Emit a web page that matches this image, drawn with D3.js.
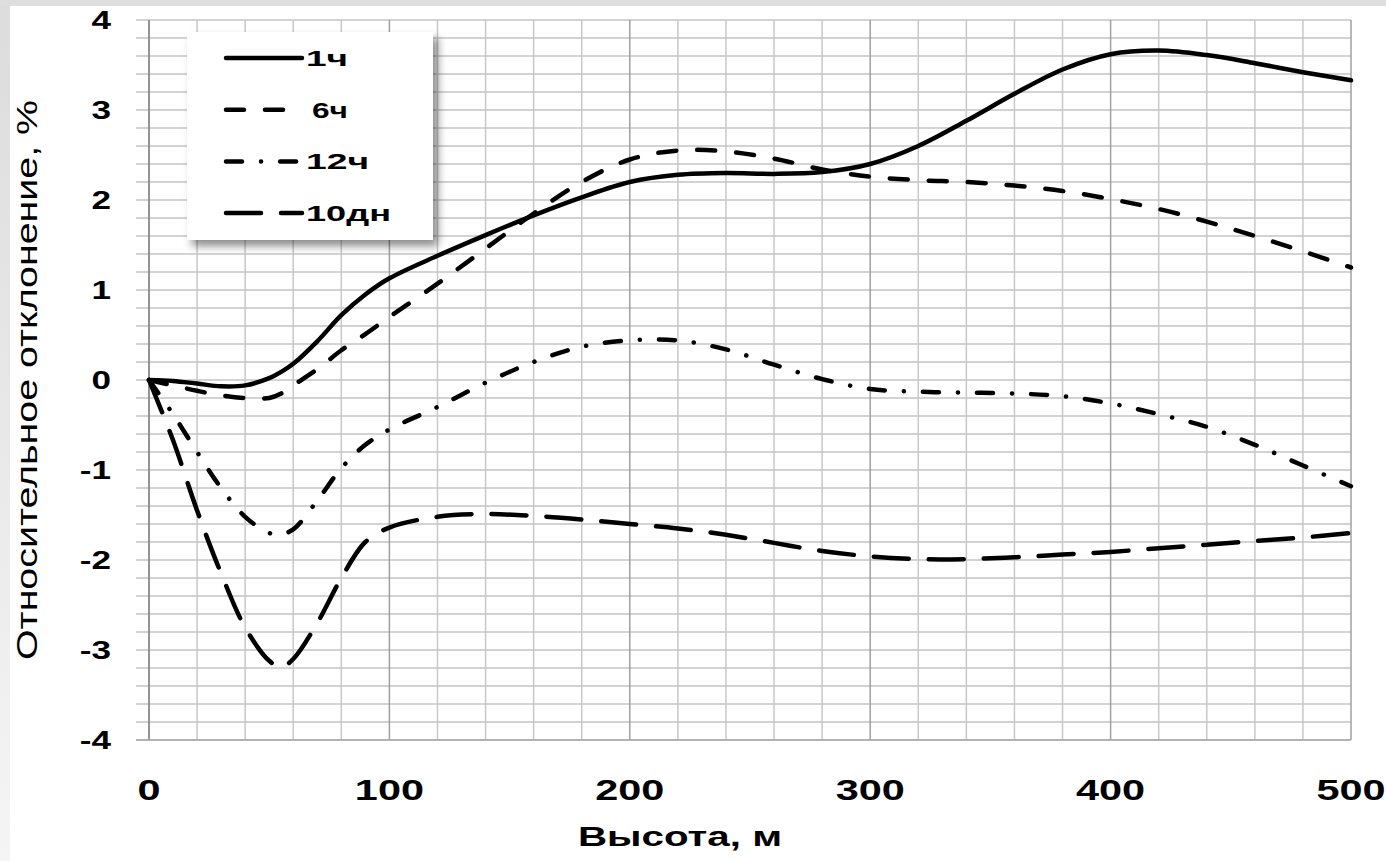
<!DOCTYPE html>
<html>
<head>
<meta charset="utf-8">
<title>Относительное отклонение</title>
<script src="https://cdn.jsdelivr.net/npm/d3@7"></script>
<style>
  body { margin: 0; background: #e4e4e4; }
  svg { display: block; }
  text { font-family: "Liberation Sans", Arial, sans-serif; fill: #000; }
</style>
</head>
<body>
<div id="chart"></div>
<script>
// heights, m
var heights = [0, 10, 20, 30, 40, 50, 55, 60, 70, 80, 90, 100, 120, 140, 160, 180, 200,
  220, 240, 260, 280, 300, 320, 340, 360, 380, 400, 420, 440, 460, 480, 500];

var dev1h = [0, -0.01, -0.04, -0.07, -0.06, 0.02, 0.09, 0.18, 0.43, 0.72, 0.95, 1.13, 1.38, 1.61, 1.83, 2.03, 2.2,
  2.28, 2.3, 2.29, 2.31, 2.4, 2.6, 2.88, 3.18, 3.45, 3.62, 3.66, 3.61, 3.52, 3.42, 3.33];
var dev6h = [0, -0.06, -0.12, -0.17, -0.2, -0.2, -0.15, -0.06, 0.12, 0.33, 0.51, 0.7, 1.07, 1.46, 1.85, 2.2, 2.45,
  2.55, 2.54, 2.46, 2.34, 2.26, 2.22, 2.2, 2.16, 2.1, 2.01, 1.9, 1.76, 1.6, 1.43, 1.25];
var dev12h = [0, -0.38, -0.8, -1.2, -1.52, -1.7, -1.71, -1.66, -1.34, -0.98, -0.72, -0.55, -0.3, -0.03, 0.2, 0.37, 0.44,
  0.44, 0.34, 0.17, 0.01, -0.1, -0.13, -0.14, -0.15, -0.18, -0.26, -0.38, -0.52, -0.72, -0.95, -1.18];
var dev10d = [0, -0.67, -1.45, -2.15, -2.75, -3.12, -3.19, -3.1, -2.7, -2.2, -1.8, -1.64, -1.52, -1.49, -1.51, -1.55, -1.6,
  -1.65, -1.72, -1.81, -1.9, -1.96, -1.99, -1.99, -1.97, -1.94, -1.91, -1.87, -1.83, -1.79, -1.75, -1.7];

var seriesNames = ["1ч", "6ч", "12ч", "10дн"];
var xTicks = [0, 100, 200, 300, 400, 500];
var yTicks = [-4, -3, -2, -1, 0, 1, 2, 3, 4];

var W = 1386, H = 861;
var svg = d3.select("#chart").append("svg").attr("width", W).attr("height", H);

// grey frame (top + left bands)
var defs = svg.append("defs");
var grad = defs.append("linearGradient").attr("id", "band").attr("x1", 0).attr("x2", 0).attr("y1", 0).attr("y2", 1);
grad.append("stop").attr("offset", "0%").attr("stop-color", "#dcdcdc");
grad.append("stop").attr("offset", "100%").attr("stop-color", "#f5f5f5");
svg.append("rect").attr("width", W).attr("height", H).attr("fill", "url(#band)");
svg.append("rect").attr("width", W).attr("height", 6).attr("fill", "#dedede");
svg.append("rect").attr("x", 10).attr("y", 6).attr("width", W - 10).attr("height", H - 6).attr("fill", "#fff");

var shadow = defs.append("filter").attr("id", "shadow").attr("x", "-10%").attr("y", "-10%").attr("width", "130%").attr("height", "130%");
shadow.append("feDropShadow").attr("dx", 5).attr("dy", 6).attr("stdDeviation", 4)
  .attr("flood-color", "#000").attr("flood-opacity", 0.45);

var x = d3.scaleLinear().domain([0, 500]).range([149, 1351]);
var y = d3.scaleLinear().domain([-4, 4]).range([740, 20]);

// grid
var g = svg.append("g");
g.selectAll(".hgrid").data(d3.range(-20, 21).map(function (i) { return i / 5; }))
  .enter().append("line")
  .attr("x1", 136).attr("x2", x(500))
  .attr("y1", function (d) { return y(d); }).attr("y2", function (d) { return y(d); })
  .attr("stroke", "#c4c4c4").attr("stroke-width", 1.5);
g.selectAll(".vgrid").data(d3.range(0, 501, 20))
  .enter().append("line")
  .attr("x1", function (d) { return x(d); }).attr("x2", function (d) { return x(d); })
  .attr("y1", y(4)).attr("y2", y(-4))
  .attr("stroke", function (d) { return d % 100 === 0 ? "#a0a0a0" : "#c8c8c8"; })
  .attr("stroke-width", 1.5);
g.append("line").attr("x1", x(0)).attr("x2", x(0)).attr("y1", y(4)).attr("y2", y(-4))
  .attr("stroke", "#888").attr("stroke-width", 1.5);
g.append("line").attr("x1", 136).attr("x2", x(500)).attr("y1", y(-4)).attr("y2", y(-4))
  .attr("stroke", "#a8a8a8").attr("stroke-width", 1.5);

// tick labels (text in the picture is wide, so stretch horizontally)
svg.selectAll(".ylab").data(yTicks).enter().append("text")
  .attr("transform", function (d) { return "translate(111," + (y(d) + 9) + ") scale(1.35,1)"; })
  .attr("text-anchor", "end").attr("font-size", 26).attr("font-weight", "bold")
  .text(function (d) { return d; });
svg.selectAll(".xlab").data(xTicks).enter().append("text")
  .attr("transform", function (d) { return "translate(" + x(d) + ",800) scale(1.38,1)"; })
  .attr("text-anchor", "middle").attr("font-size", 30).attr("font-weight", "bold")
  .text(function (d) { return d; });

svg.append("text").attr("x", 680).attr("y", 846).attr("text-anchor", "middle")
  .attr("font-size", 28).attr("font-weight", "bold")
  .attr("textLength", 204).attr("lengthAdjust", "spacingAndGlyphs")
  .text("Высота, м");
svg.append("text").attr("transform", "translate(37,380) rotate(-90)").attr("text-anchor", "middle")
  .attr("font-size", 30)
  .attr("textLength", 560).attr("lengthAdjust", "spacingAndGlyphs")
  .text("Относительное отклонение, %");

// curves
var allSeries = [dev1h, dev6h, dev12h, dev10d];
var dashes = ["none", "18,21", "16,19,0.1,19", "35,20"];
var line = d3.line()
  .x(function (d, i) { return x(heights[i]); })
  .y(function (d) { return y(d); })
  .curve(d3.curveCatmullRom.alpha(0.5));

svg.append("g").selectAll("path").data(allSeries).enter().append("path")
  .attr("d", line)
  .attr("fill", "none").attr("stroke", "#000").attr("stroke-width", 4.5)
  .attr("stroke-linecap", "round").attr("stroke-linejoin", "round")
  .attr("stroke-dasharray", function (d, i) { return dashes[i]; });

// legend
var leg = svg.append("g");
leg.append("rect").attr("x", 187).attr("y", 32).attr("width", 246).attr("height", 208)
  .attr("fill", "#fff").attr("filter", "url(#shadow)");
var labelWidths = [42, 36, 63, 85];
var rows = leg.selectAll(".row").data(seriesNames).enter().append("g")
  .attr("transform", function (d, i) { return "translate(0," + (58 + i * 51.7) + ")"; });
rows.append("line").attr("x1", 226).attr("x2", 302).attr("y1", 0).attr("y2", 0)
  .attr("stroke", "#000").attr("stroke-width", 4.5).attr("stroke-linecap", "round")
  .attr("stroke-dasharray", function (d, i) { return dashes[i]; });
rows.append("text").attr("x", function (d, i) { return i === 1 ? 312 : 306; }).attr("y", 8)
  .attr("font-size", 22).attr("font-weight", "bold")
  .attr("textLength", function (d, i) { return labelWidths[i]; })
  .attr("lengthAdjust", "spacingAndGlyphs")
  .text(function (d) { return d; });
</script>
</body>
</html>
